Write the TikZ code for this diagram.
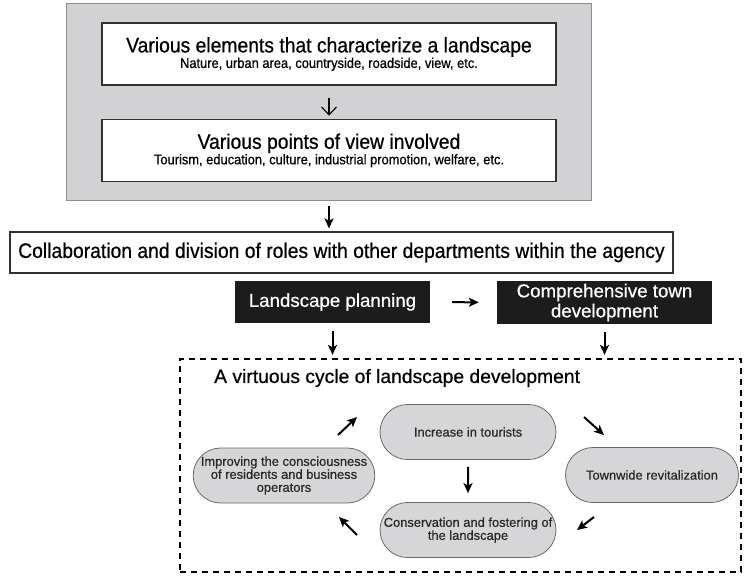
\documentclass[tikz,border=0pt]{standalone}
\usepackage{fontspec}
\setmainfont{Liberation Sans}[FakeBold=0.6]
\newfontfamily\condfont{Liberation Sans}[FakeStretch=0.92, FakeBold=0.6]
\usetikzlibrary{positioning, arrows.meta, shapes.misc, fit, backgrounds}

\definecolor{panelgray}{RGB}{210,210,212}
\definecolor{panelline}{RGB}{140,140,142}
\definecolor{boxline}{RGB}{50,50,50}
\definecolor{nearblack}{RGB}{28,28,28}
\definecolor{cycfill}{RGB}{214,214,216}
\definecolor{cycline}{RGB}{105,105,105}
\definecolor{cyctext}{RGB}{40,40,40}

\newcommand{\ttlsize}{\fontsize{21}{22}\selectfont}
\newcommand{\subsize}{\fontsize{14}{16}\selectfont}

\begin{document}
\begin{tikzpicture}[
    x=1pt, y=-1pt,
    every node/.style = {font=\condfont, inner sep=0pt},
    whitebox/.style = {draw=boxline, line width=1.4pt, fill=white,
                       minimum width=454pt, minimum height=62pt, align=center},
    panel/.style    = {draw=panelline, line width=1pt, fill=panelgray,
                       inner xsep=35pt, inner ysep=18.5pt},
    linebox/.style  = {draw=boxline, line width=1.2pt, minimum width=663pt,
                       minimum height=41pt, font=\condfont\ttlsize},
    blackbox/.style = {fill=nearblack, text=white, align=center,
                       font=\normalfont\fontsize{18.7}{20}\selectfont},
    cyclebox/.style = {draw, line width=2.2pt, dash pattern=on 6pt off 5pt,
                       minimum width=561pt, minimum height=213pt},
    cyc/.style      = {rounded rectangle, draw=cycline, fill=cycfill, line width=0.8pt,
                       minimum width=176pt, minimum height=55pt, align=center,
                       text=cyctext, font=\normalfont\fontsize{12.9}{13}\selectfont},
    varr/.style = {-{Straight Barb[length=8pt, width=15pt]}, line width=1.1pt},
    arr/.style  = {-{Stealth[length=10pt, width=9pt, inset=2.5pt]}, line width=2pt},
]
\useasboundingbox (0,0) rectangle (744,579);

% elements and points of view
\node[whitebox] (elem) at (329,54)
    {\ttlsize Various elements that characterize a landscape\\[0pt]
     \subsize Nature, urban area, countryside, roadside, view, etc.};
\node[whitebox, below=33pt of elem] (views)
    {\ttlsize Various points of view involved\\[0pt]
     \subsize Tourism, education, culture, industrial promotion, welfare, etc.};
\begin{scope}[on background layer]
\node[panel, fit=(elem)(views)] (panel) {};
\end{scope}

% collaboration
\node[linebox] (collab) at (341.5,252.5)
    {Collaboration and division of roles with other departments within the agency};

% planning
\node[blackbox, minimum width=195pt, minimum height=42pt] (plan) at (332.5,302)
    {Landscape planning};
\node[blackbox, minimum width=215pt, minimum height=43pt] (town) at (604.5,302.5)
    {Comprehensive town\\development};

% virtuous cycle
\node[cyclebox] (cycle) at (460.5,465.5) {};
\node[anchor=west, font=\normalfont\fontsize{19.3}{20}\selectfont] (cycletitle) at (214,378)
    {A virtuous cycle of landscape development};
\node[cyc] (tourists) at (468,432) {Increase in tourists};
\node[cyc, minimum width=173pt] (revital) at (652,475) {Townwide revitalization};
\node[cyc] (conserv) at (468,530) {Conservation and fostering of\\the landscape};
\node[cyc] (aware) at (284,475.5)
    {Improving the consciousness\\of residents and business\\operators};

\coordinate (neA) at (338,435); \coordinate (neB) at (357,417);
\coordinate (seA) at (584,417); \coordinate (seB) at (604,435);
\coordinate (swA) at (594,517); \coordinate (swB) at (577,530);
\coordinate (nwA) at (357,535); \coordinate (nwB) at (339,517);

% arrows
\draw[varr, shorten <=12pt, shorten >=3pt] (elem) -- (views);
\draw[arr, shorten <=5pt, shorten >=3pt] (panel.south) -- (panel.south |- collab.north);
\draw[arr, shorten <=22pt, shorten >=18pt] (plan) -- (town);
\draw[arr, shorten <=8pt, shorten >=3pt] (plan.south) -- (plan.south |- cycle.north);
\draw[arr, shorten <=8pt, shorten >=3pt] (town.south) -- (town.south |- cycle.north);
\draw[arr, shorten <=7pt, shorten >=9pt] (tourists) -- (conserv);
\draw[arr] (neA) -- (neB);
\draw[arr] (seA) -- (seB);
\draw[arr] (swA) -- (swB);
\draw[arr] (nwA) -- (nwB);
\end{tikzpicture}
\end{document}
